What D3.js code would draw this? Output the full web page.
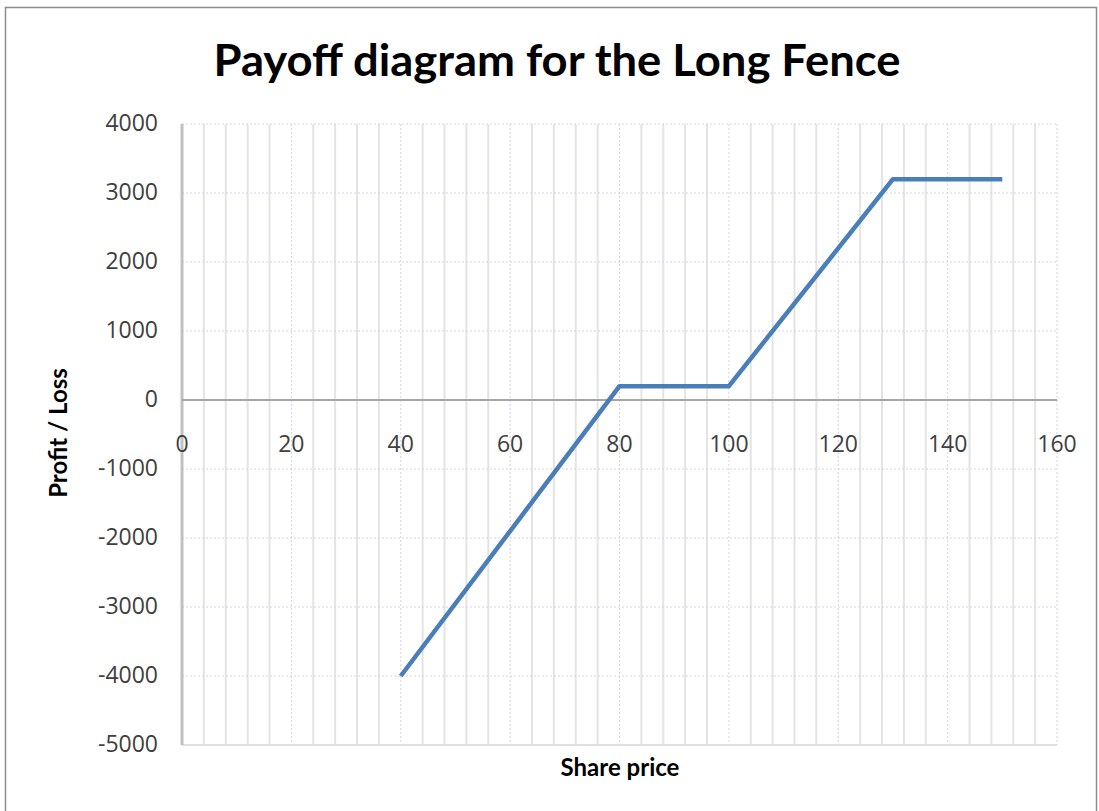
<!DOCTYPE html>
<html>
<head>
<meta charset="utf-8">
<script src="https://cdn.jsdelivr.net/npm/d3@7"></script>
<style>
  body { margin: 0; background: #fff; }
  svg { display: block; }
</style>
</head>
<body>
<svg class="chart"></svg>
<script>
// payoff data
const sharePrice = [40, 80, 100, 130, 150]
const profitLoss = [-4000, 200, 200, 3200, 3200]

const xTicks = [0, 20, 40, 60, 80, 100, 120, 140, 160]
const yTicks = [4000, 3000, 2000, 1000, 0, -1000, -2000, -3000, -4000, -5000]

const chartTitle = "Payoff diagram for the Long Fence"
const xTitle = "Share price"
const yTitle = "Profit / Loss"

const width = 1099
const height = 811

const svg = d3.select("svg.chart")
    .attr("width", width)
    .attr("height", height)

// outer frame
svg.append("rect")
    .attr("x", 5.5)
    .attr("y", 7.5)
    .attr("width", 1091)
    .attr("height", 820)
    .attr("fill", "#fff")
    .attr("stroke", "#8c8c8c")
    .attr("stroke-width", 1.5)

const scaleX = d3.scaleLinear()
    .domain([0, 160])
    .range([182, 1057])

const scaleY = d3.scaleLinear()
    .domain([-5000, 4000])
    .range([745, 124])

// minor vertical grid, every 4
const minorX = d3.range(4, 161, 4)
svg.append("g")
    .selectAll("line")
    .data(minorX)
    .enter().append("line")
    .attr("x1", d => scaleX(d))
    .attr("x2", d => scaleX(d))
    .attr("y1", scaleY(4000))
    .attr("y2", scaleY(-5000))
    .attr("stroke", d => d % 20 === 0 ? "#d4d4e4" : "#e4e4e4")
    .attr("stroke-width", d => d % 20 === 0 ? 1 : 2)
    .attr("stroke-dasharray", d => d % 20 === 0 ? "2,2" : null)

// horizontal grid
svg.append("g")
    .selectAll("line")
    .data(yTicks)
    .enter().append("line")
    .attr("x1", scaleX(0))
    .attr("x2", scaleX(160))
    .attr("y1", d => scaleY(d))
    .attr("y2", d => scaleY(d))
    .attr("stroke", d => d === -5000 ? "#e0e0e0" : "#d4d4e0")
    .attr("stroke-width", d => d === -5000 ? 2 : 1)
    .attr("stroke-dasharray", d => d === -5000 ? null : "2,2")

// y axis line
svg.append("line")
    .attr("x1", scaleX(0))
    .attr("x2", scaleX(0))
    .attr("y1", scaleY(4000))
    .attr("y2", scaleY(-5000))
    .attr("stroke", "#c0c0c0")
    .attr("stroke-width", 3)

// x axis at zero
svg.append("line")
    .attr("x1", scaleX(0))
    .attr("x2", scaleX(160))
    .attr("y1", scaleY(0))
    .attr("y2", scaleY(0))
    .attr("stroke", "#a6a6a6")
    .attr("stroke-width", 2)

// tick labels
svg.append("g")
    .selectAll("text")
    .data(yTicks)
    .enter().append("text")
    .attr("x", 158)
    .attr("y", d => scaleY(d) + 7)
    .attr("text-anchor", "end")
    .attr("font-family", "'Open Sans', sans-serif")
    .attr("font-size", "23px")
    .attr("fill", "#404040")
    .text(d => d)

svg.append("g")
    .selectAll("text")
    .data(xTicks)
    .enter().append("text")
    .attr("x", d => scaleX(d))
    .attr("y", scaleY(0) + 52)
    .attr("text-anchor", "middle")
    .attr("font-family", "'Open Sans', sans-serif")
    .attr("font-size", "23px")
    .attr("fill", "#404040")
    .text(d => d)

// the payoff line
const points = sharePrice.map((p, i) => [p, profitLoss[i]])
const line = d3.line()
    .x(d => scaleX(d[0]))
    .y(d => scaleY(d[1]))

svg.append("path")
    .datum(points)
    .attr("d", line)
    .attr("fill", "none")
    .attr("stroke", "#4a7ebb")
    .attr("stroke-width", 4.5)
    .attr("stroke-linejoin", "round")

// titles
svg.append("text")
    .attr("x", 557)
    .attr("y", 76)
    .attr("text-anchor", "middle")
    .attr("font-family", "Lato, sans-serif")
    .attr("font-weight", "bold")
    .attr("font-size", "44px")
    .attr("textLength", 687)
    .attr("lengthAdjust", "spacingAndGlyphs")
    .attr("fill", "#000")
    .text(chartTitle)

svg.append("text")
    .attr("x", 620)
    .attr("y", 776)
    .attr("text-anchor", "middle")
    .attr("font-family", "Lato, sans-serif")
    .attr("font-weight", "bold")
    .attr("font-size", "24px")
    .attr("fill", "#000")
    .text(xTitle)

svg.append("text")
    .attr("transform", "translate(67, 433) rotate(-90)")
    .attr("text-anchor", "middle")
    .attr("font-family", "Lato, sans-serif")
    .attr("font-weight", "bold")
    .attr("font-size", "24px")
    .attr("fill", "#000")
    .text(yTitle)
</script>
</body>
</html>
